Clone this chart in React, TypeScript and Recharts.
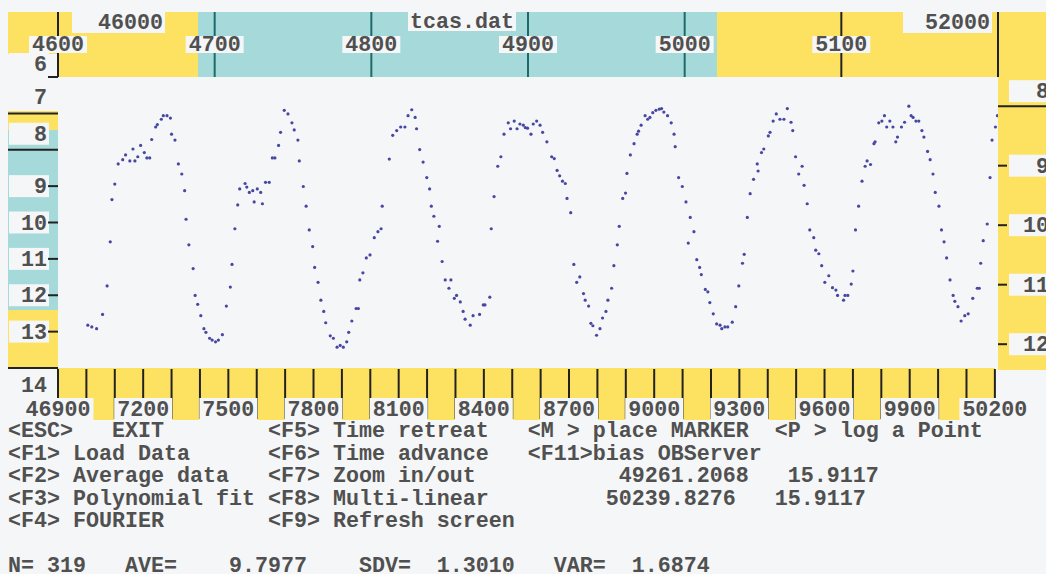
import React from 'react';
import { ScatterChart, Scatter, XAxis, YAxis } from 'recharts';

// Observation dates (JD - 2400000)
const jdDates = [
  47005, 47019, 47036, 47057, 47073, 47084, 47090, 47100, 47112, 47128,
  47138, 47153, 47164, 47171, 47181, 47191, 47204, 47213, 47223, 47230,
  47244, 47250, 47264, 47271, 47284, 47296, 47300, 47312, 47324, 47336,
  47346, 47351, 47361, 47376, 47383, 47392, 47403, 47414, 47421, 47434,
  47443, 47455, 47465, 47479, 47493, 47507, 47513, 47523, 47533, 47540,
  47559, 47565, 47574, 47586, 47591, 47602, 47614, 47620, 47631, 47644,
  47655, 47664, 47677, 47684, 47697, 47710, 47724, 47732,
  47745, 47750, 47764, 47774, 47785, 47797, 47804, 47816, 47826, 47836,
  47843, 47859, 47870, 47883, 47894, 47905, 47917, 47924, 47935, 47950,
  47958, 47963, 47974, 47986, 47999, 48014, 48027, 48038, 48042, 48067,
  48079, 48093, 48107, 48122, 48133, 48146, 48158, 48163, 48174, 48186,
  48199, 48209, 48215, 48224, 48237, 48243, 48253, 48264, 48277, 48284,
  48296, 48304, 48317, 48327, 48334, 48352, 48362, 48385, 48398, 48404,
  48421, 48426, 48436, 48449, 48460, 48471, 48486, 48494, 48507, 48517,
  48527, 48539, 48546, 48554,
  48566, 48574, 48586, 48598, 48607, 48622, 48639, 48648, 48658, 48667,
  48677, 48687, 48693, 48706, 48717, 48727, 48738, 48751, 48757, 48769,
  48777, 48784, 48797, 48809, 48818, 48830, 48837, 48850, 48858, 48870,
  48877, 48889, 48899, 48904, 48916, 48929, 48940, 48945, 48954, 48968,
  48977, 48985, 48995, 49006, 49018, 49026, 49034, 49047, 49060, 49070,
  49074, 49086, 49099, 49112, 49120, 49127, 49140, 49150, 49160, 49166,
  49180, 49189, 49196, 49208, 49220, 49232, 49238, 49249, 49259, 49275,
  49287, 49298, 49311, 49317, 49328, 49338, 49350, 49363, 49366, 49378,
  49386,
  49402, 49408, 49419, 49430, 49443, 49457, 49469, 49482, 49488, 49498,
  49509, 49521, 49528, 49539, 49548, 49562, 49569, 49580, 49590, 49601,
  49615, 49628, 49640, 49646, 49667, 49672, 49682, 49694, 49700, 49709,
  49720, 49732, 49743, 49750, 49762, 49774, 49778, 49791, 49802, 49811,
  49819, 49830, 49841, 49851, 49857, 49871, 49882, 49897, 49905, 49912,
  49922, 49932, 49943, 49950, 49963, 49972, 49982, 49990, 50003, 50012,
  50021, 50030, 50042, 50053, 50059, 50070, 50081, 50094, 50106, 50122,
  50138, 50145, 50150, 50159, 50173, 50183, 50190, 50202, 50209,
];

// Visual magnitudes
const magnitudes = [
  11.68, 11.71, 11.74, 11.50, 11.02, 10.28, 9.57, 9.31, 8.97, 8.90,
  8.82, 8.92, 8.72, 8.92, 8.85, 8.66, 8.78, 8.87, 8.87, 8.56,
  8.35, 8.31, 8.22, 8.16, 8.16, 8.20, 8.47, 8.57, 8.97, 9.14,
  9.42, 9.90, 10.33, 10.73, 11.18, 11.33, 11.52, 11.74, 11.80, 11.90,
  11.93, 11.96, 11.93, 11.84, 11.36, 11.04, 10.66, 10.06, 9.66, 9.39,
  9.30, 9.36, 9.45, 9.42, 9.61, 9.39, 9.45, 9.64, 9.28, 9.28,
  8.87, 8.87, 8.66, 8.44, 8.07, 8.13, 8.28, 8.40,
  8.57, 8.92, 9.35, 9.68, 10.08, 10.36, 10.71, 10.96, 11.26, 11.45,
  11.64, 11.86, 11.90, 12.05, 12.02, 12.05, 11.96, 11.80, 11.61, 11.40,
  11.40, 10.92, 10.80, 10.55, 10.50, 10.21, 10.11, 10.06, 9.68, 8.89,
  8.49, 8.41, 8.35, 8.35, 8.16, 8.06, 8.19, 8.38, 8.73, 8.94,
  9.20, 9.39, 9.68, 9.85, 10.27, 10.02, 10.61, 10.92, 11.06, 10.92,
  11.23, 11.18, 11.29, 11.45, 11.58, 11.68, 11.52, 11.50, 11.34, 11.34,
  11.21, 10.06, 9.52, 9.01, 8.85, 8.47, 8.28, 8.38, 8.25, 8.38,
  8.30, 8.32, 8.36, 8.37,
  8.47, 8.30, 8.25, 8.32, 8.44, 8.60, 8.85, 8.88, 9.08, 9.17,
  9.26, 9.30, 9.55, 9.79, 10.66, 10.96, 10.87, 11.15, 11.26, 11.36,
  11.65, 11.69, 11.85, 11.74, 11.56, 11.45, 11.26, 11.06, 10.68, 10.33,
  10.02, 9.55, 9.46, 9.13, 8.82, 8.63, 8.47, 8.42, 8.32, 8.16,
  8.22, 8.19, 8.11, 8.07, 8.05, 8.04, 8.10, 8.16, 8.28, 8.47,
  8.68, 9.20, 9.35, 9.61, 10.30, 9.87, 10.11, 10.58, 10.71, 10.83,
  11.08, 11.12, 11.30, 11.49, 11.66, 11.68, 11.74, 11.71, 11.71, 11.63,
  11.37, 11.02, 10.64, 10.49, 9.87, 9.47, 9.23, 8.97, 9.09, 8.78,
  8.72,
  8.50, 8.44, 8.25, 8.13, 8.22, 8.22, 8.04, 8.27, 8.41, 8.85,
  9.14, 9.01, 9.33, 9.64, 10.08, 10.21, 10.42, 10.48, 10.68, 10.96,
  10.85, 11.05, 11.09, 11.18, 11.26, 11.18, 11.18, 10.99, 10.77, 10.08,
  9.68, 9.26, 9.01, 8.92, 8.98, 8.63, 8.60, 8.28, 8.25, 8.16,
  8.35, 8.25, 8.35, 8.60, 8.52, 8.35, 8.27, 8.00, 8.16, 8.19,
  8.25, 8.25, 8.41, 8.52, 8.76, 8.90, 9.14, 9.45, 9.68, 10.08,
  10.28, 10.55, 10.92, 11.18, 11.28, 11.37, 11.61, 11.52, 11.49, 11.23,
  11.06, 11.06, 10.64, 10.26, 9.98, 9.20, 8.57, 8.35, 8.16,
];

// Axis ticks and labels
const jdDomain = [46900, 50211];
const jdTickValues = Array.from({ length: 34 }, (_, i) => 46900 + 100 * i);
const jdLabelValues = [46900, 47200, 47500, 47800, 48100, 48400, 48700, 49000, 49300, 49600, 49900, 50200];
const jdLabelTexts = ['46900', '7200', '7500', '7800', '8100', '8400', '8700', '9000', '9300', '9600', '9900', '50200'];
const cycleDomain = [4600, 5200];
const cycleTickValues = [4600, 4700, 4800, 4900, 5000, 5100, 5200];
const cycleLabelTexts = ['4600', '4700', '4800', '4900', '5000', '5100', ''];
const leftDomain = [6, 14];
const leftTickValues = [6, 7, 8, 9, 10, 11, 12, 13, 14];
const magDomain = [7.51, 12.4];
const magTickValues = [8, 9, 10, 11, 12];

// Screen texts
const fileName = 'tcas.dat';
const rangeLabelTexts = ['46000', '52000'];
const menuLines = [
  '<ESC>   EXIT        <F5> Time retreat   <M > place MARKER  <P > log a Point',
  '<F1> Load Data      <F6> Time advance   <F11>bias OBServer',
  '<F2> Average data   <F7> Zoom in/out           49261.2068   15.9117',
  '<F3> Polynomial fit <F8> Multi-linear         50239.8276   15.9117',
  '<F4> FOURIER        <F9> Refresh screen',
];
const statLine = 'N= 319   AVE=    9.7977    SDV=  1.3010   VAR=  1.6874';

// Palette and type
const YELLOW = '#fde262';
const CYAN = '#a5d9da';
const PAPER = '#f4f6f7';
const INK = '#505050';
const RULE = '#222222';
const TEAL = '#1e6a68';
const DOT = '#4747a3';
const FONT = '"Liberation Mono", "Courier New", monospace';
const FS = 21.66;
const CH = 13;

const W = 1046;
const H = 574;
const PLOT_TOP = 77;
const PLOT_BOTTOM = 368;
const PLOT_RIGHT = 998;

const points = jdDates.map((jd, i) => ({ jd, mag: magnitudes[i] }));
// invisible anchors so the secondary axes get a scale
const cycleAnchors = cycleTickValues.map((cyc) => ({ cyc, lv: 10 }));
const jdLabelAnchors = jdLabelValues.map((jdl) => ({ jdl, lv: 10 }));

const textProps = {
  fontFamily: FONT,
  fontWeight: 700 as const,
  fontSize: FS,
  fill: INK,
};

function Boxed({ cx, cy, text, anchor = 'middle', boxX, boxW }: any) {
  const w = text.length * CH;
  const left = boxX !== undefined ? boxX : anchor === 'middle' ? cx - w / 2 - 3 : anchor === 'end' ? cx - w - 3 : cx - 3;
  const width = boxW !== undefined ? boxW : w + 6;
  return (
    <g>
      <rect x={left} y={cy - 11} width={width} height={22} fill={PAPER} />
      <text x={cx} y={cy + 7} textAnchor={anchor} {...textProps}>{text}</text>
    </g>
  );
}

function BottomRuleTick(props: any) {
  const { x } = props;
  return <line x1={x} x2={x} y1={PLOT_BOTTOM + 1} y2={419} stroke={RULE} strokeWidth={2} />;
}

function BottomLabelTick(props: any) {
  const { x, payload } = props;
  const i = jdLabelValues.indexOf(payload.value);
  if (i < 0) return <g />;
  return <Boxed cx={x} cy={409} text={jdLabelTexts[i]} />;
}

function TopTick(props: any) {
  const { x, payload } = props;
  const i = cycleTickValues.indexOf(payload.value);
  const label = i >= 0 ? cycleLabelTexts[i] : '';
  const inCyan = x > 198 && x < 717;
  return (
    <g>
      <line x1={x} x2={x} y1={12} y2={PLOT_TOP} stroke={inCyan ? TEAL : RULE} strokeWidth={2} />
      {label && (
        <g>
          <rect x={x - 29} y={36} width={58} height={17} fill={PAPER} />
          <text x={x} y={51} textAnchor="middle" {...textProps}>{label}</text>
        </g>
      )}
    </g>
  );
}

function LeftTick(props: any) {
  const { y, payload } = props;
  const v = payload.value;
  const first = v === leftTickValues[0];
  const last = v === leftTickValues[leftTickValues.length - 1];
  const ruled = v === 7 || v === 8 || last;
  const labelY = last ? y + 17 : first ? y - 13 : ruled ? y - 16 : y;
  return (
    <g>
      <Boxed cx={47} cy={labelY} text={String(v)} anchor="end" boxX={9} boxW={40} />
      {ruled ? (
        <line x1={8} x2={58} y1={y} y2={y} stroke={RULE} strokeWidth={2} />
      ) : (
        <line x1={48} x2={58} y1={y} y2={y} stroke={RULE} strokeWidth={2} />
      )}
    </g>
  );
}

function RightTick(props: any) {
  const { y, payload } = props;
  const v = payload.value;
  const ruled = v === magTickValues[0];
  const labelY = ruled ? y - 15 : y;
  return (
    <g>
      <Boxed cx={1049} cy={labelY} text={String(v)} anchor="end" boxX={1009} boxW={40} />
      {ruled ? (
        <line x1={PLOT_RIGHT} x2={W} y1={y} y2={y} stroke={RULE} strokeWidth={2} />
      ) : (
        <line x1={PLOT_RIGHT} x2={PLOT_RIGHT + 9} y1={y} y2={y} stroke={RULE} strokeWidth={2} />
      )}
    </g>
  );
}

function Dot(props: any) {
  const { cx, cy } = props;
  if (cx == null || cy == null) return <g />;
  return <circle cx={cx} cy={cy} r={1.6} fill={DOT} />;
}

function Nothing() {
  return <g />;
}

function Backdrop() {
  return (
    <svg width={W} height={H} style={{ position: 'absolute', left: 0, top: 0 }}>
      <rect x={0} y={0} width={W} height={H} fill={PAPER} />
      <rect x={8} y={12} width={190} height={65} fill={YELLOW} />
      <rect x={198} y={12} width={519} height={65} fill={CYAN} />
      <rect x={717} y={12} width={W - 717} height={65} fill={YELLOW} />
      <rect x={8} y={54} width={49} height={57} fill={PAPER} />
      <rect x={8} y={111} width={50} height={19} fill={YELLOW} />
      <rect x={8} y={130} width={50} height={180} fill={CYAN} />
      <rect x={8} y={310} width={50} height={58} fill={YELLOW} />
      <rect x={PLOT_RIGHT} y={PLOT_TOP} width={W - PLOT_RIGHT} height={293} fill={YELLOW} />
      <rect x={58} y={PLOT_BOTTOM} width={937} height={52} fill={YELLOW} />
    </svg>
  );
}

function ScreenText() {
  return (
    <svg width={W} height={H} style={{ position: 'absolute', left: 0, top: 0, pointerEvents: 'none' }}>
      <rect x={72} y={12} width={93} height={21} fill={PAPER} />
      <text x={163} y={29} textAnchor="end" {...textProps}>{rangeLabelTexts[0]}</text>
      <rect x={408} y={12} width={108} height={19} fill={PAPER} />
      <text x={462} y={28} textAnchor="middle" {...textProps}>{fileName}</text>
      <rect x={903} y={12} width={89} height={21} fill={PAPER} />
      <text x={990} y={29} textAnchor="end" {...textProps}>{rangeLabelTexts[1]}</text>
      {menuLines.map((line, i) => (
        <text key={i} x={8} y={437 + i * 22.5} {...textProps} style={{ whiteSpace: 'pre' }}>{line}</text>
      ))}
      <text x={8} y={572} {...textProps} style={{ whiteSpace: 'pre' }}>{statLine}</text>
    </svg>
  );
}

export default function App() {
  return (
    <div style={{ position: 'absolute', left: 0, top: 0, width: W, height: H, overflow: 'hidden', background: PAPER }}>
      <Backdrop />
      <div style={{ position: 'absolute', left: 0, top: 0 }}>
        <ScatterChart width={W} height={H} margin={{ top: 12, right: 0, bottom: 153, left: 8 }}>
          <XAxis
            xAxisId="cyc"
            dataKey="cyc"
            orientation="top"
            type="number"
            domain={cycleDomain}
            ticks={cycleTickValues}
            interval={0}
            height={65}
            axisLine={false}
            tickLine={false}
            allowDataOverflow
            tick={<TopTick />}
          />
          <XAxis
            xAxisId="jd"
            dataKey="jd"
            orientation="bottom"
            type="number"
            domain={jdDomain}
            ticks={jdTickValues}
            interval={0}
            height={52}
            axisLine={false}
            tickLine={false}
            allowDataOverflow
            tick={<BottomRuleTick />}
          />
          <XAxis
            xAxisId="jdLabel"
            dataKey="jdl"
            orientation="bottom"
            type="number"
            domain={jdDomain}
            ticks={jdLabelValues}
            interval={0}
            height={1}
            axisLine={false}
            tickLine={false}
            allowDataOverflow
            tick={<BottomLabelTick />}
          />
          <YAxis
            yAxisId="left"
            dataKey="lv"
            orientation="left"
            type="number"
            domain={leftDomain}
            ticks={leftTickValues}
            interval={0}
            reversed
            width={50}
            axisLine={false}
            tickLine={false}
            allowDataOverflow
            tick={<LeftTick />}
          />
          <YAxis
            yAxisId="mag"
            dataKey="mag"
            orientation="right"
            type="number"
            domain={magDomain}
            ticks={magTickValues}
            interval={0}
            reversed
            width={48}
            axisLine={false}
            tickLine={false}
            allowDataOverflow
            tick={<RightTick />}
          />
          <Scatter
            data={cycleAnchors}
            xAxisId="cyc"
            yAxisId="left"
            shape={<Nothing />}
            isAnimationActive={false}
          />
          <Scatter
            data={jdLabelAnchors}
            xAxisId="jdLabel"
            yAxisId="left"
            shape={<Nothing />}
            isAnimationActive={false}
          />
          <Scatter
            data={points}
            xAxisId="jd"
            yAxisId="mag"
            fill={DOT}
            shape={<Dot />}
            isAnimationActive={false}
          />
        </ScatterChart>
      </div>
      <ScreenText />
    </div>
  );
}
